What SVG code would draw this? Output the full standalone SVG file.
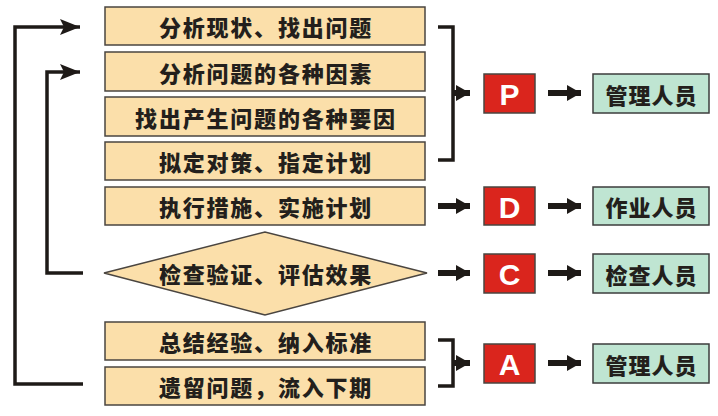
<svg xmlns="http://www.w3.org/2000/svg" width="718" height="416" viewBox="0 0 718 416">
<style>
.step{fill:#fbdfaa;stroke:#4a4540;stroke-width:1.5}
.step-t{font-family:"Noto Sans CJK SC","Noto Sans",sans-serif;font-weight:900;font-size:22px;letter-spacing:1.8px;fill:#231f1c;text-anchor:middle;dominant-baseline:central}
.phase{fill:#da251d;stroke:#4a4540;stroke-width:1.5}
.phase-t{font-family:"Liberation Sans",Arial,sans-serif;font-weight:bold;font-size:30px;fill:#ffffff;text-anchor:middle;dominant-baseline:central}
.role{fill:#bfe5d2;stroke:#3d3d3d;stroke-width:1.5}
.role-t{font-family:"Noto Sans CJK SC","Noto Sans",sans-serif;font-weight:900;font-size:22px;letter-spacing:1px;fill:#231f1c;text-anchor:middle;dominant-baseline:central}
.ln{fill:none;stroke:#1e1a17;stroke-width:3.5}
.thick{fill:none;stroke:#1e1a17;stroke-width:6}
</style>
<defs>
<marker id="ah" viewBox="0 0 20 16" refX="20" refY="8" markerWidth="20" markerHeight="16" markerUnits="userSpaceOnUse" orient="auto">
<path d="M0,0 L20,8 L0,16 L4,8 Z" fill="#1e1a17"/>
</marker>
<marker id="ah2" viewBox="0 0 14 16" refX="14" refY="8" markerWidth="14" markerHeight="16" markerUnits="userSpaceOnUse" orient="auto">
<path d="M0,0 L14,8 L0,16 Z" fill="#1e1a17"/>
</marker>
</defs>

<g id="connectors">
<polyline class="ln" points="83,384 15,384 15,27 80,27" marker-end="url(#ah)"/>
<polyline class="ln" points="83,273 47,273 47,72 80,72" marker-end="url(#ah)"/>
<polyline class="ln" points="438,27 453,27 453,160 438,160"/>
<line class="thick" x1="453" y1="93" x2="470" y2="93" marker-end="url(#ah2)"/>
<line class="thick" x1="438" y1="206" x2="470" y2="206" marker-end="url(#ah2)"/>
<line class="thick" x1="438" y1="273" x2="470" y2="273" marker-end="url(#ah2)"/>
<polyline class="ln" points="438,340 453,340 453,386 438,386"/>
<line class="thick" x1="453" y1="363" x2="470" y2="363" marker-end="url(#ah2)"/>
<line class="thick" x1="548" y1="93" x2="581" y2="93" marker-end="url(#ah2)"/>
<line class="thick" x1="548" y1="206" x2="581" y2="206" marker-end="url(#ah2)"/>
<line class="thick" x1="548" y1="273" x2="581" y2="273" marker-end="url(#ah2)"/>
<line class="thick" x1="548" y1="363" x2="581" y2="363" marker-end="url(#ah2)"/>
</g>

<g id="s1"><rect class="step" x="105" y="7" width="320" height="38"/><text class="step-t" x="266" y="26">分析现状、找出问题</text></g>
<g id="s2"><rect class="step" x="105" y="52" width="320" height="39"/><text class="step-t" x="266" y="71.5">分析问题的各种因素</text></g>
<g id="s3"><rect class="step" x="105" y="97" width="320" height="39"/><text class="step-t" x="266" y="116.5">找出产生问题的各种要因</text></g>
<g id="s4"><rect class="step" x="105" y="142" width="320" height="38"/><text class="step-t" x="266" y="161">拟定对策、指定计划</text></g>
<g id="s5"><rect class="step" x="105" y="187" width="320" height="38"/><text class="step-t" x="266" y="206">执行措施、实施计划</text></g>
<g id="s6"><polygon class="step" points="104,273 265,232 427,273 265,315"/><text class="step-t" x="266" y="273">检查验证、评估效果</text></g>
<g id="s7"><rect class="step" x="105" y="322" width="320" height="38"/><text class="step-t" x="266" y="341">总结经验、纳入标准</text></g>
<g id="s8"><rect class="step" x="105" y="367" width="320" height="38"/><text class="step-t" x="266" y="386">遗留问题，流入下期</text></g>

<g id="P"><rect class="phase" x="484" y="74" width="51" height="39"/><text class="phase-t" x="509.5" y="94">P</text></g>
<g id="D"><rect class="phase" x="484" y="187" width="51" height="38"/><text class="phase-t" x="509.5" y="207">D</text></g>
<g id="C"><rect class="phase" x="484" y="254" width="51" height="39"/><text class="phase-t" x="509.5" y="274">C</text></g>
<g id="A"><rect class="phase" x="484" y="344" width="51" height="39"/><text class="phase-t" x="509.5" y="364">A</text></g>

<g id="r1"><rect class="role" x="593" y="74" width="116" height="39"/><text class="role-t" x="651.5" y="93.5">管理人员</text></g>
<g id="r2"><rect class="role" x="593" y="187" width="116" height="38"/><text class="role-t" x="651.5" y="206">作业人员</text></g>
<g id="r3"><rect class="role" x="593" y="254" width="116" height="39"/><text class="role-t" x="651.5" y="273.5">检查人员</text></g>
<g id="r4"><rect class="role" x="593" y="344" width="116" height="39"/><text class="role-t" x="651.5" y="363.5">管理人员</text></g>
</svg>
